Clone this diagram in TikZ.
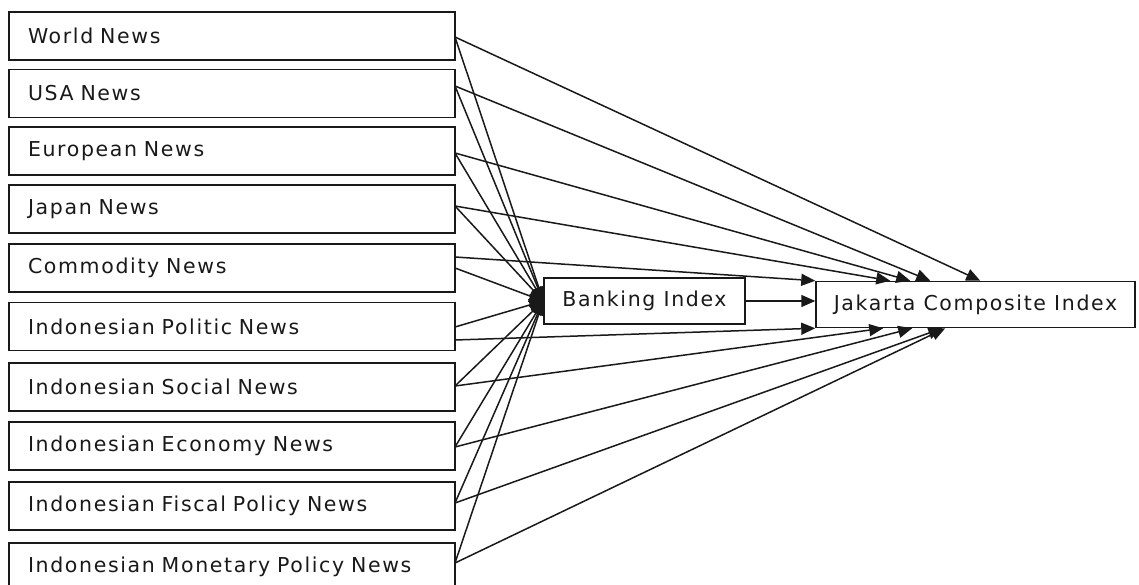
\documentclass[tikz,border=0pt]{standalone}
\usepackage{fontspec}
\setmainfont{DejaVu Sans}[LetterSpace=8]
\usetikzlibrary{arrows.meta,calc}
\begin{document}
\begin{tikzpicture}[x=1pt,y=-1pt,
  every node/.style={font=\fontsize{20.5}{24}\selectfont, text=black!90},
  newsbox/.style={draw=black!90, line width=1.5pt, minimum width=446pt, minimum height=48pt,
    inner xsep=19pt, text width=408pt, align=left},
  idxbox/.style={draw=black!90, line width=1.5pt, minimum height=46pt, inner sep=0pt},
  link/.style={draw=black!90, line width=1.5pt, -{Triangle[length=14pt,width=12pt]}}]
\useasboundingbox (0,0) rectangle (1139,585);

% news sources
\node[newsbox] (n1)  at (232,36)    {World News};
\node[newsbox] (n2)  at (232,93.5)  {USA News};
\node[newsbox] (n3)  at (232,151)   {European News};
\node[newsbox] (n4)  at (232,209)   {Japan News};
\node[newsbox] (n5)  at (232,268)   {Commodity News};
\node[newsbox] (n6)  at (232,326.5) {Indonesian Politic News};
\node[newsbox] (n7)  at (232,387)   {Indonesian Social News};
\node[newsbox] (n8)  at (232,446)   {Indonesian Economy News};
\node[newsbox] (n9)  at (232,506)   {Indonesian Fiscal Policy News};
\node[newsbox] (n10) at (232,567)   {Indonesian Monetary Policy News};

% indices
\node[idxbox, minimum width=201pt] (bank) at (644.5,301) {Banking Index};
\node[idxbox, minimum width=319pt] (jak)  at (975.5,304.5) {Jakarta Composite Index};

% start points on the right side of the news boxes
\coordinate (s1)  at (455,37);
\coordinate (s2)  at (455,86);
\coordinate (s3)  at (455,153);
\coordinate (s4)  at (455,206);
\coordinate (s5j) at (455,257);
\coordinate (s5b) at (455,268);
\coordinate (s6b) at (455,327);
\coordinate (s6j) at (455,340);
\coordinate (s7)  at (455,386);
\coordinate (s8)  at (455,447);
\coordinate (s9)  at (455,503);
\coordinate (s10) at (455,563);

% arrival points on the composite index box
\coordinate (j1)  at ($(jak.north west)+(165,0)$);
\coordinate (j2)  at ($(jak.north west)+(115,0)$);
\coordinate (j3)  at ($(jak.north west)+(95,0)$);
\coordinate (j4)  at ($(jak.north west)+(75,0)$);
\coordinate (j5)  at (jak.north west);
\coordinate (j6)  at (jak.south west);
\coordinate (j7)  at ($(jak.south west)+(68,0)$);
\coordinate (j8)  at ($(jak.south west)+(97,0)$);
\coordinate (j9)  at ($(jak.south west)+(127,0)$);
\coordinate (j10) at ($(jak.south west)+(130,0)$);

% news -> banking index
\foreach \s in {s1,s2,s3,s4,s5b,s6b,s7,s8,s9,s10}
  \draw[link] (\s) -- (bank.west);

% news -> composite index
\draw[link] (s1)  -- (j1);
\draw[link] (s2)  -- (j2);
\draw[link] (s3)  -- (j3);
\draw[link] (s4)  -- (j4);
\draw[link] (s5j) -- (j5);
\draw[link] (s6j) -- (j6);
\draw[link] (s7)  -- (j7);
\draw[link] (s8)  -- (j8);
\draw[link] (s9)  -- (j9);
\draw[link] (s10) -- (j10);

% banking index -> composite index
\draw[link] (bank.east) -- (bank.east -| jak.west);
\end{tikzpicture}
\end{document}
